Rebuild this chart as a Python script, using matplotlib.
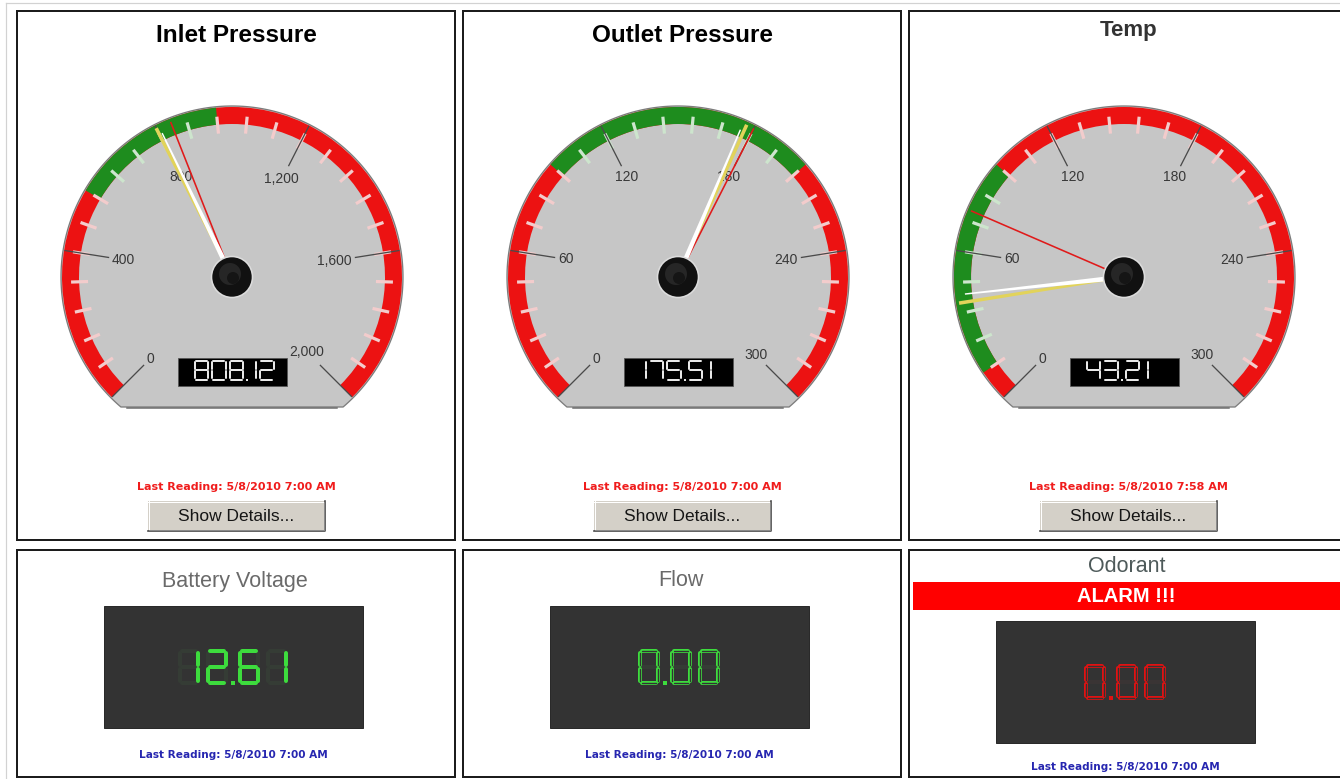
import numpy as np
import matplotlib
matplotlib.use('Agg')
import matplotlib.pyplot as plt
from matplotlib import patches

plt.rcParams['font.family'] = ['Liberation Sans', 'DejaVu Sans']

#----------------------------------------------------------------
# values
gaugeTitles = ['Inlet Pressure', 'Outlet Pressure', 'Temp']
gaugeMax = [2000, 300, 300]
gaugeMajorStep = [400, 60, 60]
gaugeGreenLow = [560, 96, 12]
gaugeGreenHigh = [960, 204, 96]
gaugeValues = [808.12, 175.51, 43.21]
gaugeRedNeedle = [840, 180, 76]
gaugeYellowNeedle = [800, 177, 40]
gaugeReadings = ['5/8/2010 7:00 AM', '5/8/2010 7:00 AM', '5/8/2010 7:58 AM']

meterTitles = ['Battery Voltage', 'Flow', 'Odorant']
meterValues = [12.61, 0.00, 0.00]
meterAlarm = [False, False, True]
meterReadings = ['5/8/2010 7:00 AM', '5/8/2010 7:00 AM', '5/8/2010 7:00 AM']

#----------------------------------------------------------------
W, H = 1340, 779
colLeft = [17, 463, 909]
colWidth = 438
topRow = (11, 540)
bottomRow = (550, 777)

RED = '#ec1212'
GREEN = '#1e8c1e'
SEGMENTS = {'0': 'abcdef', '1': 'bc', '2': 'abdeg', '3': 'abcdg', '4': 'bcfg',
            '5': 'acdfg', '6': 'acdefg', '7': 'abc', '8': 'abcdefg', '9': 'abcdfg'}


def px(v):
  # pixels -> points at dpi 100
  return v * 0.72


def angleOf(v, vmax):
  return 225.0 - 270.0 * v / vmax


def polar(cx, cy, r, a):
  rad = np.radians(a)
  return cx + r * np.cos(rad), cy - r * np.sin(rad)


def band(ax, cx, cy, v1, v2, vmax, rOut, width, color, z):
  # y axis is inverted, so screen angles are negated for the wedge
  w = patches.Wedge((cx, cy), rOut, -angleOf(v1, vmax), -angleOf(v2, vmax),
                    width=width, facecolor=color, edgecolor='none', zorder=z)
  ax.add_patch(w)


def needle(ax, cx, cy, ang, length, base, tip, color, z):
  b1 = polar(cx, cy, base, ang + 90)
  b2 = polar(cx, cy, base, ang - 90)
  tx, ty = polar(cx, cy, length, ang)
  t1 = polar(tx, ty, tip, ang + 90)
  t2 = polar(tx, ty, tip, ang - 90)
  ax.add_patch(patches.Polygon([b1, t1, t2, b2], closed=True, facecolor=color,
                               edgecolor='none', zorder=z))


def segLines(x, y, w, h, g):
  return {'a': ((x + g, y), (x + w - g, y)),
          'b': ((x + w, y + g), (x + w, y + h / 2 - g)),
          'c': ((x + w, y + h / 2 + g), (x + w, y + h - g)),
          'd': ((x + g, y + h), (x + w - g, y + h)),
          'e': ((x, y + h / 2 + g), (x, y + h - g)),
          'f': ((x, y + g), (x, y + h / 2 - g)),
          'g': ((x + g, y + h / 2), (x + w - g, y + h / 2))}


def lcdWidth(text, w, step, dotStep, oneW=None):
  total = 0
  for ch in text:
    if ch == '.':
      total += dotStep
    elif ch == '1' and oneW is not None:
      total += oneW + (step - w)
    else:
      total += step
  return total - (step - w)


def drawLcd(ax, text, x, y, w, h, step, lw, color, dotStep=0, oneW=None,
            ghost=None, hollow=None, z=8):
  gap = step - w
  for ch in text:
    if ch == '.':
      dx = x - gap / 2 + dotStep / 2
      ax.add_patch(patches.Rectangle((dx - lw / 2, y + h - lw / 2), lw, lw,
                                     facecolor=color, edgecolor='none', zorder=z + 1))
      x += dotStep
      continue
    if ch == '1' and oneW is not None:
      segs = segLines(x + oneW - w, y, w, h, lw * 0.6)
      adv = oneW + gap
    else:
      segs = segLines(x, y, w, h, lw * 0.6)
      adv = step
    lit = SEGMENTS.get(ch, '')
    for s in 'abcdefg':
      (x1, y1), (x2, y2) = segs[s]
      if s in lit:
        ax.plot([x1, x2], [y1, y2], color=color, lw=px(lw), solid_capstyle='round', zorder=z + 1)
        if hollow is not None:
          ax.plot([x1, x2], [y1, y2], color=hollow, lw=px(lw * 0.35), solid_capstyle='round', zorder=z + 2)
      elif ghost is not None:
        ax.plot([x1, x2], [y1, y2], color=ghost, lw=px(lw), solid_capstyle='round', zorder=z)
    x += adv


def panel(ax, x0, y0, y1):
  ax.add_patch(patches.Rectangle((x0, y0), colWidth, y1 - y0, facecolor='white',
                                 edgecolor='#1c1c1c', lw=px(2), zorder=1))


def button(ax, cx, y, label):
  x0, w, h = cx - 88, 177, 30
  ax.add_patch(patches.Rectangle((x0, y), w, h, facecolor='#d4d0c8', edgecolor='none', zorder=3))
  ax.plot([x0, x0 + w], [y + 0.5, y + 0.5], color='white', lw=px(1), zorder=4)
  ax.plot([x0 + 0.5, x0 + 0.5], [y, y + h], color='white', lw=px(1), zorder=4)
  ax.plot([x0, x0 + w, x0 + w], [y + h, y + h, y], color='#404040', lw=px(1.6), zorder=4)
  ax.plot([x0 + 1, x0 + w - 1.5, x0 + w - 1.5], [y + h - 1.5, y + h - 1.5, y + 1],
          color='#8a8a8a', lw=px(1), zorder=4)
  ax.text(cx, y + h / 2 + 0.5, label, ha='center', va='center', fontsize=12.5,
          color='#151515', zorder=5)


def gauge(ax, i, cx, cy):
  vmax = gaugeMax[i]
  R = 170
  t = np.linspace(0, 360, 721)
  bx = cx + (R + 1) * np.cos(np.radians(t))
  by = np.minimum(cy - (R + 1) * np.sin(np.radians(t)), cy + 130)
  ax.add_patch(patches.Polygon(np.column_stack([bx, by]), closed=True, facecolor='#c6c6c6',
                               edgecolor='#7c7c7c', lw=px(1.3), zorder=2))
  ax.plot([cx - 105, cx + 105], [cy + 130.5, cy + 130.5], color='#6a6a6a', lw=px(1.5), zorder=2)

  band(ax, cx, cy, 0, vmax, vmax, R, 17, RED, 3)
  band(ax, cx, cy, gaugeGreenLow[i], gaugeGreenHigh[i], vmax, R, 17, GREEN, 3)

  minor = gaugeMajorStep[i] / 5.0
  for k in range(1, int(round(vmax / minor))):
    v = k * minor
    a = angleOf(v, vmax)
    inGreen = gaugeGreenLow[i] < v < gaugeGreenHigh[i]
    p1 = polar(cx, cy, 144, a)
    p2 = polar(cx, cy, 161, a)
    ax.plot([p1[0], p2[0]], [p1[1], p2[1]], color='#cde5cd' if inGreen else '#f3cccc',
            lw=px(3.2), solid_capstyle='butt', zorder=4)

  for v in np.arange(0, vmax + 1, gaugeMajorStep[i]):
    a = angleOf(v, vmax)
    p1 = polar(cx, cy, 169, a)
    p2 = polar(cx, cy, 125, a)
    ax.plot([p1[0], p2[0]], [p1[1], p2[1]], color='#4a4a4a', lw=px(1.3), zorder=5)
    lab = '{:,}'.format(int(v))
    fsPx = 10 * 100 / 72.0
    hw = 0.5 * fsPx * (0.556 * sum(c.isdigit() for c in lab) + 0.278 * lab.count(','))
    hh = 5.0
    rad = np.radians(a)
    r = 122 - (abs(np.cos(rad)) * hw + abs(np.sin(rad)) * hh)
    lx, ly = polar(cx, cy, r, a)
    ax.text(lx, ly, lab, ha='center', va='center', fontsize=10, color='#383838', zorder=6)

  # readout
  ax.add_patch(patches.Rectangle((cx - 54, cy + 81), 109, 28, facecolor='black',
                                 edgecolor='#555555', lw=px(0.8), zorder=6))
  drawLcd(ax, '%.2f' % gaugeValues[i], cx - 54 + 16.5, cy + 84, 13.5, 18.5, 17.5, 2.0,
          '#e8e8e8', dotStep=4, oneW=5, z=7)

  # needles
  needle(ax, cx, cy, angleOf(gaugeYellowNeedle[i], vmax), 167, 1.2, 1.8, '#e2d35a', 8)
  ra = angleOf(gaugeRedNeedle[i], vmax)
  rt = polar(cx, cy, 166, ra)
  ax.plot([cx, rt[0]], [cy, rt[1]], color='#e01a1a', lw=px(1.6), zorder=9)
  needle(ax, cx, cy, angleOf(gaugeValues[i], vmax), 160, 2.6, 0.7, 'white', 10)

  # hub
  ax.add_patch(patches.Circle((cx, cy), 20.5, facecolor='#111111', edgecolor='#dcdcdc',
                              lw=px(1.6), zorder=11))
  ax.add_patch(patches.Circle((cx - 2, cy - 3), 11, facecolor='#262626', edgecolor='none',
                              zorder=11))
  ax.add_patch(patches.Circle((cx + 1, cy + 1), 6, facecolor='#151515', edgecolor='none',
                              zorder=11))


#----------------------------------------------------------------
fig = plt.figure(figsize=(W / 100.0, H / 100.0), dpi=100)
ax = fig.add_axes([0, 0, 1, 1])
ax.set_xlim(0, W)
ax.set_ylim(H, 0)
ax.axis('off')

# page frame
ax.plot([5.5, W], [2.5, 2.5], color='#d2d2d2', lw=px(1.2), zorder=0)
ax.plot([5.5, 5.5], [2.5, H], color='#d2d2d2', lw=px(1.2), zorder=0)

for i in range(3):
  x0 = colLeft[i]
  pcx = x0 + colWidth / 2.0

  # top row : dial gauges
  panel(ax, x0, topRow[0], topRow[1])
  if gaugeTitles[i] == 'Temp':
    ax.text(pcx + 1, 30, gaugeTitles[i], ha='center', va='center', fontsize=16,
            fontweight='bold', color='#333333', zorder=5)
  else:
    ax.text(pcx, 35, gaugeTitles[i], ha='center', va='center', fontsize=17.5,
            fontweight='bold', color='black', zorder=5)
  gauge(ax, i, pcx - 4, 277)
  ax.text(pcx, 487, 'Last Reading: ' + gaugeReadings[i], ha='center', va='center',
          fontsize=8, fontweight='bold', family=['DejaVu Sans'], color='#f01c1c', zorder=5)
  button(ax, pcx, 501, 'Show Details...')

  # bottom row : digital meters
  panel(ax, x0, bottomRow[0], bottomRow[1])
  alarm = meterAlarm[i]
  titleY = 567 if alarm else 581
  dispY = 621 if alarm else 606
  readY = 767 if alarm else 755
  ax.text(pcx - 1, titleY, meterTitles[i], ha='center', va='center', fontsize=15.5,
          color='#4e5a5a' if alarm else '#6a6a6a', zorder=5)
  if alarm:
    ax.add_patch(patches.Rectangle((x0 + 4, 582), colWidth, 28, facecolor='#ff0000',
                                   edgecolor='none', zorder=3))
    ax.text(pcx - 2, 596, 'ALARM !!!', ha='center', va='center', fontsize=14.5,
            fontweight='bold', color='white', zorder=5)
  dcx = pcx - 3
  ax.add_patch(patches.Rectangle((dcx - 129.5, dispY), 259, 122, facecolor='#333333',
                                 edgecolor='#2a2a2a', lw=px(1), zorder=6))
  txt = '%.2f' % meterValues[i]
  lit = '#e01212' if alarm else '#3ddc3d'
  ghost = '#3a3434' if alarm else '#353c35'
  hollow = '#333333' if meterValues[i] == 0 else None
  dw = lcdWidth(txt, 18, 28, 4)
  drawLcd(ax, txt, dcx - dw / 2.0, dispY + 45, 18, 32, 28, 4, lit, dotStep=4,
          ghost=ghost, hollow=hollow, z=7)
  ax.text(pcx - 3, readY, 'Last Reading: ' + meterReadings[i], ha='center', va='center',
          fontsize=7.6, fontweight='bold', family=['DejaVu Sans'], color='#2626b0', zorder=5)

fig.savefig('out.png', dpi=100)
